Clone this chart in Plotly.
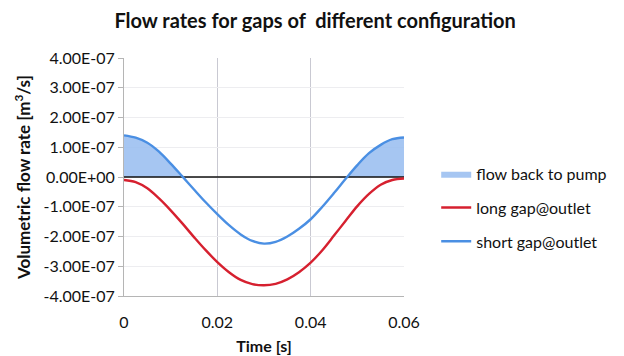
import numpy as np
import plotly.graph_objects as go

# Time samples [s]
time_s = [0.0, 0.0025, 0.005, 0.0075, 0.01, 0.0125, 0.015, 0.0175, 0.02, 0.0225,
          0.025, 0.0275, 0.03, 0.0325, 0.035, 0.0375, 0.04, 0.0425, 0.045, 0.0475,
          0.05, 0.0525, 0.055, 0.0575, 0.06]

# Volumetric flow rate, short gap at outlet [m^3/s]
short_gap = [1.40e-7, 1.32e-7, 1.15e-7, 0.85e-7, 0.45e-7, 0.02e-7, -0.42e-7, -0.85e-7,
             -1.25e-7, -1.62e-7, -1.93e-7, -2.15e-7, -2.24e-7, -2.18e-7, -2.00e-7,
             -1.74e-7, -1.42e-7, -1.00e-7, -0.54e-7, -0.06e-7, 0.40e-7, 0.80e-7,
             1.08e-7, 1.27e-7, 1.33e-7]

# Volumetric flow rate, long gap at outlet [m^3/s]
long_gap = [-0.10e-7, -0.17e-7, -0.38e-7, -0.72e-7, -1.12e-7, -1.56e-7, -2.02e-7,
            -2.46e-7, -2.86e-7, -3.20e-7, -3.46e-7, -3.60e-7, -3.64e-7, -3.59e-7,
            -3.44e-7, -3.20e-7, -2.88e-7, -2.46e-7, -1.97e-7, -1.47e-7, -0.98e-7,
            -0.57e-7, -0.26e-7, -0.10e-7, -0.05e-7]

y_tickvals = [4e-7, 3e-7, 2e-7, 1e-7, 0.0, -1e-7, -2e-7, -3e-7, -4e-7]
y_ticktext = ["4.00E-07", "3.00E-07", "2.00E-07", "1.00E-07", "0.00E+00",
              "-1.00E-07", "-2.00E-07", "-3.00E-07", "-4.00E-07"]
x_tickvals = [0, 0.02, 0.04, 0.06]
x_ticktext = ["0", "0.02", "0.04", "0.06"]

FONT = "Lato, 'Open Sans', sans-serif"
BLUE = "#4a8fe3"
RED = "#d6202f"
FILL = "rgba(150,188,240,0.85)"

backflow = np.maximum(np.array(short_gap), 0.0)

fig = go.Figure()

# Positive part of the short-gap flow: fluid returning to the pump
fig.add_trace(go.Scatter(
    x=time_s, y=backflow, mode="lines", line=dict(width=0, color=FILL, shape="spline"),
    fill="tozeroy", fillcolor=FILL, name="flow back to pump", legendgroup="a",
))

# zero reference line
fig.add_trace(go.Scatter(
    x=[time_s[0], time_s[-1]], y=[0, 0], mode="lines",
    line=dict(color="#111111", width=1.6), showlegend=False, hoverinfo="skip",
))

fig.add_trace(go.Scatter(
    x=time_s, y=long_gap, mode="lines", line=dict(color=RED, width=2.4, shape="spline"),
    name="long gap@outlet", legendgroup="b",
))
fig.add_trace(go.Scatter(
    x=time_s, y=short_gap, mode="lines", line=dict(color=BLUE, width=2.4, shape="spline"),
    name="short gap@outlet", legendgroup="c",
))

fig.update_layout(
    width=624, height=356,
    margin=dict(l=124, r=218, t=58, b=60),
    paper_bgcolor="white", plot_bgcolor="white",
    font=dict(family=FONT, color="#111111"),
    title=dict(text="<b>Flow rates for gaps of  different configuration</b>",
               x=0.505, xanchor="center", y=0.94, yanchor="middle",
               font=dict(size=20, family=FONT, color="#111111")),
    legend=dict(x=1.115, y=0.585, xanchor="left", yanchor="top",
                font=dict(size=16, family=FONT, color="#111111"),
                tracegroupgap=10, bgcolor="rgba(0,0,0,0)", itemwidth=30),
    showlegend=True,
)

fig.update_xaxes(
    range=[0, 0.06], tickvals=x_tickvals, ticktext=x_ticktext,
    showgrid=True, gridcolor="#c9c9d2", gridwidth=1,
    showline=True, linecolor="#b5b5b5", linewidth=1,
    ticks="", ticklabelstandoff=12, automargin=False,
    tickfont=dict(size=16, family=FONT, color="#111111"),
    zeroline=False,
    title=dict(text="<b>Time [s]</b>",
               font=dict(size=16, family=FONT, color="#111111", weight="bold"),
               standoff=10),
)
fig.update_yaxes(
    range=[-4e-7, 4e-7], tickvals=y_tickvals, ticktext=y_ticktext,
    showgrid=True, gridcolor="#ededf0", gridwidth=1,
    showline=True, linecolor="#b5b5b5", linewidth=1,
    ticks="outside", ticklen=5, tickcolor="#b5b5b5", automargin=False,
    tickfont=dict(size=16, family=FONT, color="#111111"),
    zeroline=False,
    title=dict(text="<b>Volumetric flow rate [m<sup>3</sup>/s]</b>",
               font=dict(size=17, family=FONT, color="#111111", weight="bold"),
               standoff=8),
)

fig.write_html("out.html")
